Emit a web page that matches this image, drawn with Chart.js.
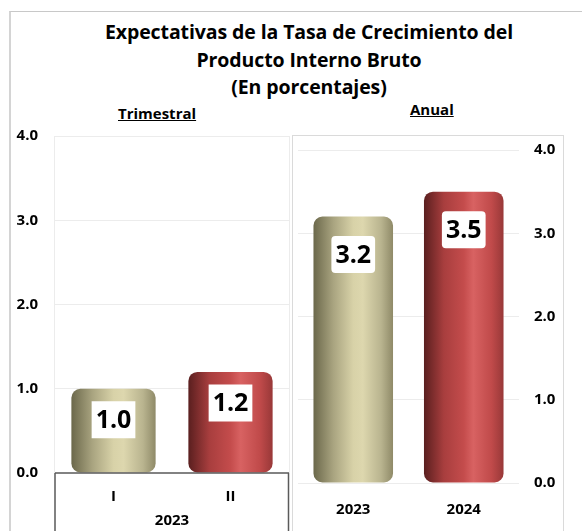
<!DOCTYPE html>
<html>
<head>
<meta charset="utf-8">
<script src="https://cdn.jsdelivr.net/npm/chart.js@4.4.1/dist/chart.umd.min.js"></script>
<style>
    body { margin: 0; background: #fff; }
    #wrap { position: relative; width: 582px; height: 531px; overflow: hidden; font-family: "Open Sans", sans-serif; }
    #frame { position: absolute; left: 9px; top: 11px; width: 600px; height: 600px; border-left: 2px solid #d4d4d4; border-top: 1px solid #c8c8c8; }
    #title { position: absolute; left: 19px; top: 18px; width: 580px; text-align: center; font-weight: bold; font-size: 19.5px; line-height: 27.5px; color: #000; letter-spacing: -0.1px; }
    .sub { position: absolute; font-weight: bold; font-size: 15px; text-decoration: underline; color: #000; }
    #annualBox { position: absolute; left: 292px; top: 135px; width: 270px; height: 420px; border: 1px solid #dadada; }
    canvas { position: absolute; top: 0; }
</style>
</head>
<body>
<div id="wrap">
    <div id="frame"></div>
    <div id="title">Expectativas de la Tasa de Crecimiento del<br>Producto Interno Bruto<br>(En porcentajes)</div>
    <div class="sub" style="left:118px; top:103px;">Trimestral</div>
    <div class="sub" style="left:410px; top:99px;">Anual</div>
    <div id="annualBox"></div>
    <canvas id="quarterChart" style="left:0px" width="292" height="531"></canvas>
    <canvas id="annualChart" style="left:292px" width="290" height="531"></canvas>
</div>
<script>
// datos
const quarterLabels = ['I', 'II'];
const quarterValues = [1.0, 1.2];
const quarterYear = '2023';
const annualLabels = ['2023', '2024'];
const annualValues = [3.2, 3.5];
const yTicks = [0, 1, 2, 3, 4];

const BAR_PCT = 0.72;
const FONT = '"Open Sans", sans-serif';

// colores tipo cilindro
const tanStops = ['#6b684b', '#a9a480', '#d8d2a8', '#ddd7ae', '#b9b48f', '#8f8a68'];
const redStops = ['#5a1f1f', '#a83e3e', '#c44c4c', '#d86262', '#c04a4a', '#983838'];
const barStops = [tanStops, redStops];

function cylinderFill(ctx) {
    const chart = ctx.chart;
    const stops = barStops[ctx.dataIndex % barStops.length];
    if (!chart.chartArea || !chart.scales.x) return stops[3];
    const xScale = chart.scales.x;
    const n = chart.data.labels.length;
    const w = xScale.width / n * BAR_PCT;
    const cx = xScale.getPixelForValue(ctx.dataIndex);
    const g = chart.ctx.createLinearGradient(cx - w / 2, 0, cx + w / 2, 0);
    const pos = [0, 0.25, 0.5, 0.62, 0.85, 1];
    stops.forEach((c, i) => g.addColorStop(pos[i], c));
    return g;
}

// etiquetas de valor en caja blanca
const valueBoxes = {
    id: 'valueBoxes',
    afterDatasetsDraw(chart, args, opts) {
        const c = chart.ctx;
        const meta = chart.getDatasetMeta(0);
        meta.data.forEach((bar, i) => {
            const v = chart.data.datasets[0].data[i];
            const txt = v.toFixed(1);
            c.save();
            c.font = 'bold 25px ' + FONT;
            const tw = c.measureText(txt).width;
            const bw = tw + 8, bh = 37;
            const cy = bar.y + opts.offset;
            c.fillStyle = '#fff';
            c.beginPath();
            c.roundRect(bar.x - bw / 2, cy - bh / 2, bw, bh, opts.radius);
            c.fill();
            c.fillStyle = '#000';
            c.textAlign = 'center';
            c.textBaseline = 'middle';
            c.fillText(txt, bar.x, cy + 1);
            c.restore();
        });
    }
};

// marco del area y agrupacion del eje trimestral
const quarterFrame = {
    id: 'quarterFrame',
    afterDraw(chart) {
        const c = chart.ctx;
        const a = chart.chartArea;
        c.save();
        c.strokeStyle = '#ececec';
        c.lineWidth = 1;
        c.beginPath();
        c.moveTo(a.left - 0.5, a.top);
        c.lineTo(a.left - 0.5, a.bottom);
        c.moveTo(a.right + 0.5, a.top);
        c.lineTo(a.right + 0.5, a.bottom);
        c.stroke();
        c.strokeStyle = '#5a5a5a';
        c.lineWidth = 1.5;
        c.beginPath();
        c.moveTo(a.left, a.bottom);
        c.lineTo(a.right, a.bottom);
        c.moveTo(a.left, a.bottom);
        c.lineTo(a.left, chart.height);
        c.moveTo(a.right - 0.5, a.bottom);
        c.lineTo(a.right - 0.5, chart.height);
        c.stroke();
        c.fillStyle = '#000';
        c.font = 'bold 15px ' + FONT;
        c.textAlign = 'center';
        c.textBaseline = 'middle';
        c.fillText(quarterYear, (a.left + a.right) / 2, 521);
        c.restore();
    }
};

const tickFont = { family: FONT, size: 15, weight: 'bold' };

function baseOptions(position, yWidth, xHeight, xPad, yPad, padding, zeroColor) {
    return {
        responsive: false,
        animation: false,
        events: [],
        layout: { padding: padding },
        plugins: {
            legend: { display: false },
            tooltip: { enabled: false },
            valueBoxes: { offset: 30, radius: 0 }
        },
        scales: {
            x: {
                grid: { display: false },
                border: { display: false },
                ticks: { color: '#000', font: tickFont, padding: xPad },
                afterFit: (s) => { s.height = xHeight; }
            },
            y: {
                position: position,
                min: 0,
                max: 4,
                afterBuildTicks: (s) => { s.ticks = yTicks.map(v => ({ value: v })); },
                grid: {
                    drawTicks: false,
                    color: (ctx) => ctx.tick.value === 0 ? zeroColor : '#ececec'
                },
                border: { display: false },
                ticks: {
                    color: '#000',
                    font: tickFont,
                    padding: yPad,
                    callback: (v) => Number(v).toFixed(1)
                },
                afterFit: (s) => { s.width = yWidth; }
            }
        }
    };
}

const qOpts = baseOptions('left', 55, 58, 7, 17, { top: 136, right: 3, left: 0, bottom: 0 }, 'rgba(0,0,0,0)');
qOpts.plugins.valueBoxes = { offset: 31, radius: 0 };
new Chart(document.getElementById('quarterChart'), {
    type: 'bar',
    data: {
        labels: quarterLabels,
        datasets: [{
            data: quarterValues,
            backgroundColor: cylinderFill,
            borderRadius: 9,
            borderSkipped: false,
            categoryPercentage: 1,
            barPercentage: BAR_PCT
        }]
    },
    options: qOpts,
    plugins: [valueBoxes, quarterFrame]
});

const aOpts = baseOptions('right', 63, 48, 10, 15, { top: 150, right: 0, left: 6, bottom: 0 }, '#ececec');
aOpts.plugins.valueBoxes = { offset: 38, radius: 4 };
new Chart(document.getElementById('annualChart'), {
    type: 'bar',
    data: {
        labels: annualLabels,
        datasets: [{
            data: annualValues,
            backgroundColor: cylinderFill,
            borderRadius: 9,
            borderSkipped: false,
            categoryPercentage: 1,
            barPercentage: BAR_PCT
        }]
    },
    options: aOpts,
    plugins: [valueBoxes]
});
</script>
</body>
</html>
